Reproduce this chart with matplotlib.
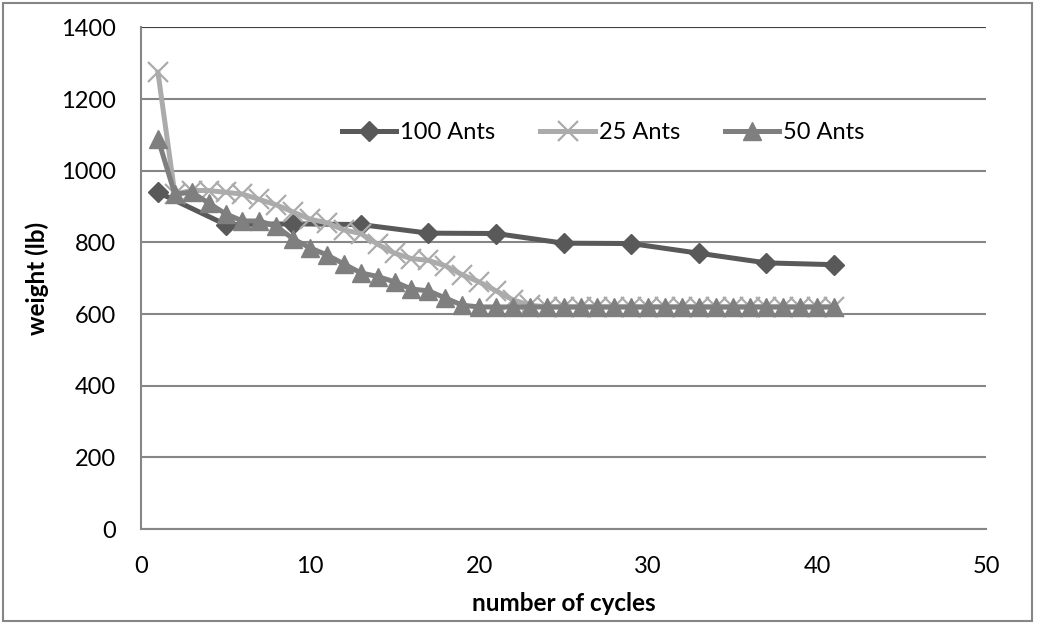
import matplotlib.pyplot as plt
import numpy as np

# weight per cycle for each colony size
cycles_100 = [1, 5, 9, 13, 17, 21, 25, 29, 33, 37, 41]
weight_100 = [940, 850, 852, 850, 826, 825, 798, 797, 770, 743, 738]

cycles_25 = list(range(1, 42))
weight_25 = [1275, 935, 945, 945, 940, 935, 920, 905, 885, 865,
             855, 835, 825, 795, 770, 755, 750, 735, 710, 690,
             665, 640, 625] + [620] * 18

cycles_50 = list(range(1, 42))
weight_50 = [1090, 935, 940, 910, 880, 860, 860, 845, 810, 785,
             765, 740, 715, 705, 690, 670, 665, 645, 625, 620] + [620] * 21

plt.rcParams['font.family'] = ['Lato', 'DejaVu Sans']

fig = plt.figure(figsize=(10.37, 6.24), dpi=100)
ax = fig.add_axes([0.136, 0.152, 0.815, 0.804])

ax.plot(cycles_100, weight_100, color='#595959', lw=3.6, marker='D', ms=10,
        label='100 Ants', zorder=3)
ax.plot(cycles_25, weight_25, color='#ababab', lw=3.6, marker='x', ms=14,
        mew=1.6, label='25 Ants', zorder=4)
ax.plot(cycles_50, weight_50, color='#7f7f7f', lw=3.6, marker='^', ms=13,
        label='50 Ants', zorder=5)

ax.set_xlim(0, 50)
ax.set_ylim(0, 1400)
ax.set_xticks(np.arange(0, 51, 10))
ax.set_yticks(np.arange(0, 1401, 200))
ax.tick_params(length=0, labelsize=17)
ax.tick_params(axis='x', pad=19)
ax.tick_params(axis='y', pad=18)
ax.yaxis.grid(True, color='#868686', lw=1.5)
ax.set_axisbelow(True)
for side in ['top', 'right']:
    ax.spines[side].set_visible(False)
for side in ['left', 'bottom']:
    ax.spines[side].set_color('#868686')
    ax.spines[side].set_linewidth(1.5)
ax.axhline(1400, color='#404040', lw=1.5, zorder=1)

ax.set_xlabel('number of cycles', fontsize=17.5, fontweight='bold', labelpad=11)
ax.set_ylabel('weight (lb)', fontsize=17.5, fontweight='bold', labelpad=9)

ax.legend(loc='center', bbox_to_anchor=(0.547, 0.79), ncol=3, frameon=False,
          fontsize=17, handlelength=2.3, columnspacing=1.9, handletextpad=0.17)

fig.patches.append(plt.Rectangle((0.003, 0.005), 0.992, 0.99, transform=fig.transFigure,
                                 fill=False, edgecolor='#868686', lw=1.5))

fig.savefig('out.png', dpi=100)
